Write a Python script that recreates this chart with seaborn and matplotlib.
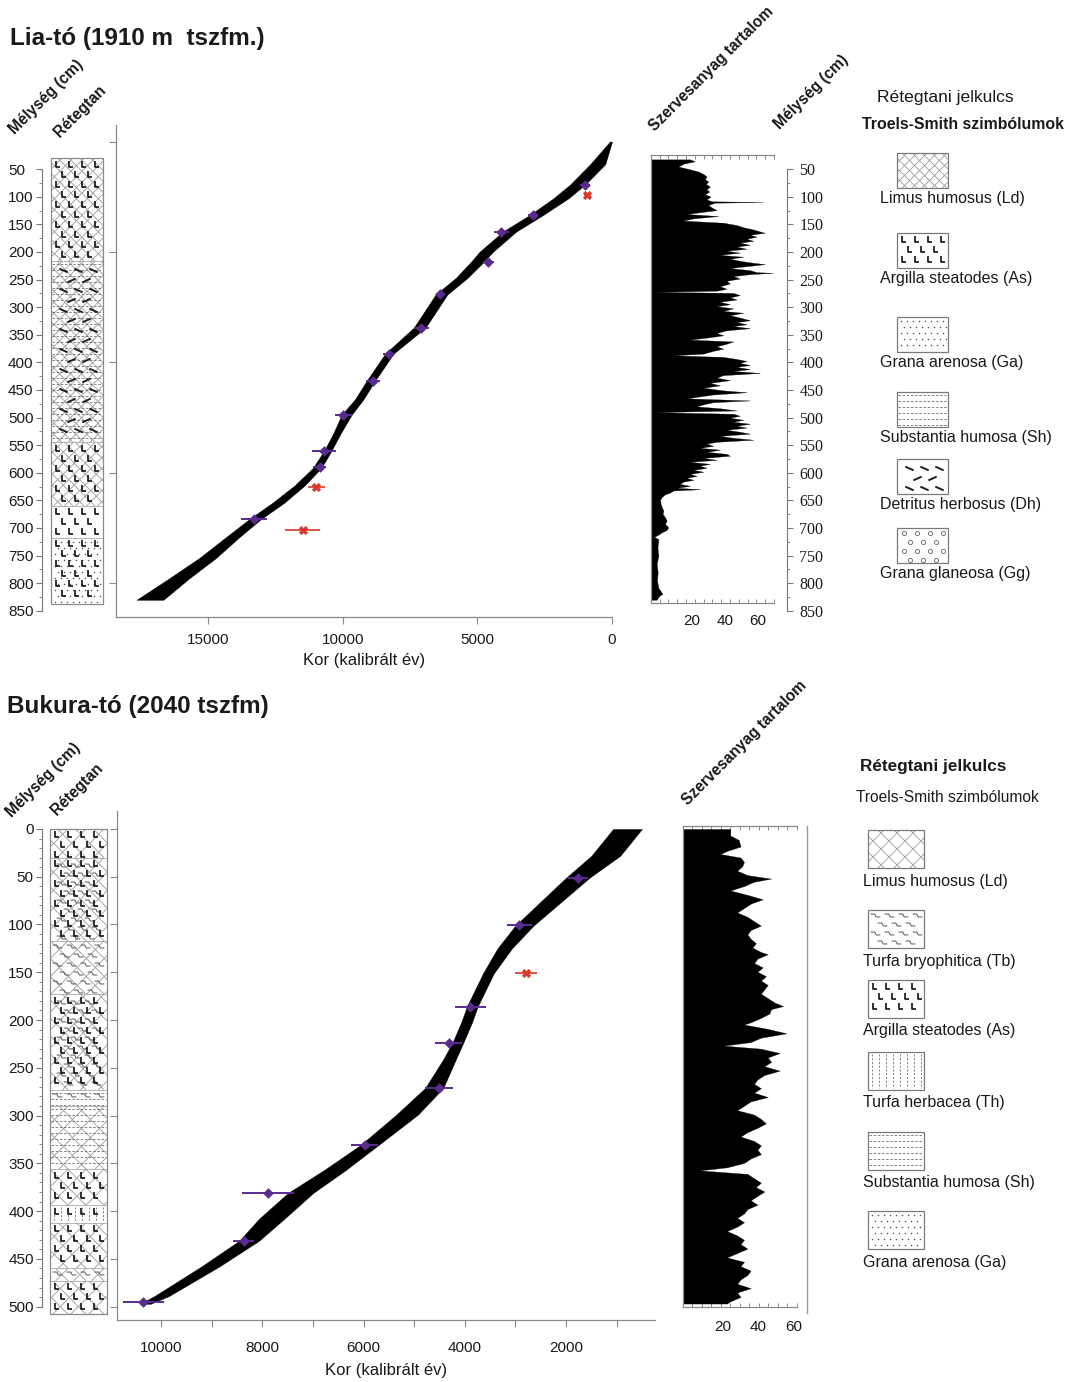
import numpy as np
import matplotlib
matplotlib.use("Agg")
import matplotlib.pyplot as plt
import seaborn as sns
from matplotlib.patches import Rectangle
from matplotlib.path import Path
from matplotlib.collections import LineCollection

# ---------------------------------------------------------------- data
LIA_TITLE = "Lia-tó (1910 m  tszfm.)"
BUK_TITLE = "Bukura-tó (2040 tszfm)"
AGE_LABEL = "Kor (kalibrált év)"

# Lia age-depth model envelope (depth cm, youngest / oldest age)
LIA_MODEL_DEPTH = [0, 41, 78, 103, 133, 163, 200, 218, 247, 277, 337, 384, 433, 467,
                   495, 529, 560, 591, 623, 654, 684, 717, 755, 792, 830]
LIA_MODEL_YOUNG = [0, 250, 1000, 1621, 2557, 3555, 4428, 4765, 5364, 6113, 6924, 8109,
                   8795, 9232, 9669, 10080, 10417, 10791, 11415, 12163, 13037, 13848,
                   14721, 15719, 16655]
LIA_MODEL_OLD = [80, 810, 1560, 2183, 3056, 4054, 4927, 5240, 5801, 6550, 7360, 8421,
                 9107, 9544, 10043, 10354, 10692, 11103, 11789, 12600, 13474, 14347,
                 15345, 16468, 17653]
LIA_DATE_AGE = [998, 2932, 4117, 4589, 6387, 7086, 8296, 8883, 9980, 10704, 10854, 13287]
LIA_DATE_DEPTH = [78, 133, 163, 218, 277, 337, 384, 433, 495, 560, 590, 684]
LIA_DATE_ERR = [190, 190, 280, 190, 160, 280, 190, 250, 310, 440, 250, 480]
LIA_OUT_AGE = [910, 10978, 11477]
LIA_OUT_DEPTH = [97, 625, 704]
LIA_OUT_ERR = [120, 310, 650]
LIA_AGE_TICKS = [15000, 10000, 5000, 0]

# Bukura age-depth model envelope
BUK_MODEL_DEPTH = [0, 28, 51, 101, 125, 151, 186, 202, 224, 241, 271, 299, 331, 357,
                   381, 408, 431, 458, 489, 497]
BUK_MODEL_YOUNG = [501, 929, 1535, 2640, 3069, 3426, 3747, 3854, 4032, 4175, 4425, 4924,
                   5709, 6351, 6994, 7564, 8064, 8849, 9847, 10204]
BUK_MODEL_OLD = [1071, 1499, 2000, 3000, 3355, 3640, 3961, 4068, 4247, 4425, 4782, 5352,
                 6066, 6780, 7493, 8064, 8456, 9205, 10133, 10420]
BUK_DATE_AGE = [1770, 2926, 3890, 4318, 4510, 5980, 7885, 8370, 10347]
BUK_DATE_DEPTH = [51, 101, 186, 224, 271, 331, 381, 431, 495]
BUK_DATE_ERR = [200, 250, 300, 270, 285, 270, 520, 210, 410]
BUK_OUT_AGE = [2784]
BUK_OUT_DEPTH = [151]
BUK_OUT_ERR = [220]
BUK_AGE_TICKS = [10000, 8000, 6000, 4000, 2000]
BUK_AGE_MINOR = [9000, 7000, 5000, 3000, 1000]

# organic matter content (depth cm, %)
LIA_ORGANIC = [
    (32, 19), (35.5, 22), (40, 15), (45, 12), (50, 19), (54, 24), (58.5, 27), (63, 29),
    (68, 28), (72, 30), (76.6, 28.6), (81.5, 31), (86, 29), (90.5, 30.6), (95, 28),
    (99.6, 31.4), (104.5, 29), (108, 32), (109.3, 63), (110.5, 34), (114.7, 30), (119, 32),
    (124, 35), (127, 27), (131, 17), (134.7, 36), (139, 21), (143, 15), (146.8, 39),
    (151, 47), (155, 51), (159, 57), (162.6, 61), (165, 64), (168.6, 55), (172, 59),
    (176, 53), (179.5, 57), (183, 49), (186.8, 55), (190, 47), (194, 53), (197.6, 41),
    (201, 49), (205, 37), (208.5, 51), (212, 43), (215.8, 49), (219.4, 57), (221.9, 64),
    (225.5, 53), (229, 43), (232.7, 55), (236.4, 59), (237.6, 69), (240, 55), (243.6, 45),
    (247.9, 49), (252, 41), (257, 43), (261.8, 37), (266.6, 41), (270, 35), (272, -2),
    (274, 45), (278, 49), (282, 43), (286, 47), (290, 37), (294.5, 43), (298, 35),
    (302, 45), (306.6, 39), (310, 51), (314.4, 43), (318.7, 49), (323.5, 55), (327, 47),
    (330.8, 53), (334, 45), (338, 55), (341.7, 41), (346.5, 35), (350.8, 39), (355, 29),
    (358.6, 19), (362, 45), (366, 41), (370.7, 35), (375, 39), (379, 33), (384, 27),
    (387, 9), (390, 39), (393.7, 47), (397.3, 53), (401, 49), (404.6, 55), (408, 47),
    (412, 55), (415.5, 45), (419, 61), (423, 39), (427.6, 35), (432, 43), (437, 31),
    (441.5, 37), (445.8, 27), (450.6, 39), (454, 53), (458, 33), (461.5, 25), (465, 17),
    (468.8, 55), (472, 33), (476, 27), (479.6, 23), (483, 37), (487, 47), (490, -2),
    (493, 45), (496.6, 49), (500, 43), (503.9, 51), (507.5, 45), (511, 55), (514.7, 47),
    (518, 53), (522, 41), (525.6, 49), (529, 55), (533, 37), (536.5, 45), (540, 57),
    (543.8, 35), (547, 29), (551, 33), (554.7, 25), (558, 37), (562, 29), (565.6, 41),
    (569, 43), (573, 27), (576.5, 35), (580, 19), (583.7, 31), (587, 25), (591, 29),
    (594.6, 21), (598, 27), (602, 19), (605.5, 23), (609, 17), (612.8, 21), (616, 15),
    (620, 13), (623.7, 19), (627, 11), (629.7, 25), (632, 9), (635.8, 7), (639, 4),
    (644, 2), (649, 1), (656, 1.4), (662, 2), (668, 3), (674.5, 2.6), (680.5, 4),
    (686.6, 5), (692.6, 4), (698.7, 6), (703.5, 5), (707.8, 2), (712, 0), (716, -2.5),
    (720, 0), (735, -0.5), (750, 0), (765, -1), (780, -0.4), (795, -0.8), (808, 0),
    (815, 1.5), (819, 2.5), (823, 0.5), (830, -1),
]
BUK_ORGANIC = [
    (0, 24.5), (6.9, 24.5), (11.5, 29.2), (18.4, 30.2), (23, 22.6), (26.2, 18.9),
    (29.9, 30.2), (34.5, 32.1), (39.1, 31.1), (43.7, 28.3), (48.3, 34), (52, 47.2),
    (55.2, 37.7), (59.8, 32.1), (64.4, 24.5), (69, 34), (73.6, 42.5), (78.2, 35.8),
    (82.8, 32.1), (87.4, 28.3), (92, 34), (96.6, 37.7), (101.2, 41.5), (105.8, 35.8),
    (110.4, 34), (115, 35.8), (119.6, 38.7), (124.2, 36.8), (128.8, 41.5), (131.1, 45.3),
    (135.7, 39.6), (140.3, 37.7), (144.9, 42.5), (149.5, 39.6), (154.1, 44.3),
    (158.7, 41.5), (163.3, 45.3), (167.9, 43.4), (172.5, 41.5), (177.1, 45.3),
    (181.7, 49.1), (185.4, 53.8), (188.6, 47.2), (193.2, 46.2), (197.8, 41.5),
    (202.4, 35.8), (204.7, 32.1), (209.3, 45.3), (213.9, 55.7), (218.5, 41.5),
    (223.1, 35.8), (226.8, 20.8), (230, 41.5), (234.6, 51.9), (239.2, 45.3),
    (243.8, 47.2), (248.4, 43.4), (253, 51.9), (257.6, 43.4), (262.2, 39.6),
    (266.8, 37.7), (271.4, 41.5), (276, 37.7), (280.6, 45.3), (285.2, 35.8),
    (289.8, 32.1), (294.4, 28.3), (299, 37.7), (303.6, 41.5), (308.2, 44.3),
    (312.8, 39.6), (317.4, 34), (322, 30.2), (326.6, 37.7), (331.2, 41.5), (335.8, 39.6),
    (340.4, 41.5), (345, 35.8), (349.6, 32.1), (354.2, 22.6), (357.4, 7.5), (361.1, 34),
    (365.7, 37.7), (370.3, 41.5), (374.9, 38.7), (379.5, 43.4), (384.1, 39.6),
    (388.7, 35.8), (393.3, 39.6), (397.9, 34), (402.5, 32.1), (407.1, 28.3),
    (411.7, 32.1), (416.3, 28.3), (420.9, 22.6), (425.5, 28.3), (430.1, 32.1),
    (434.7, 30.2), (439.3, 34), (443.9, 28.3), (448.5, 22.6), (453.1, 32.1),
    (457.7, 30.2), (462.3, 35.8), (466.9, 34), (471.5, 30.2), (476.1, 28.3),
    (480.7, 35.8), (485.3, 28.3), (489.9, 30.2), (494.5, 24.5), (496.8, 22.6),
]
ORG_TICKS = [20, 40, 60]

# stratigraphy (top, bottom depth, Troels-Smith components)
LIA_LAYER_TOP = [30, 217, 545, 660, 718]
LIA_LAYER_BOT = [217, 545, 660, 718, 838]
LIA_LAYER_COMP = ["Ld+As", "Ld+Dh+Sh", "Ld+As", "As", "As+Ga"]
BUK_LAYER_TOP = [0, 30, 117, 173, 273, 290, 356, 394, 412, 460, 473]
BUK_LAYER_BOT = [30, 117, 173, 273, 290, 356, 394, 412, 460, 473, 508]
BUK_LAYER_COMP = ["Ld+As", "Ld+As+Tb", "Ld+Tb", "Ld+As+Tb", "Sh+Tb", "Ld+Sh", "Ld+As",
                  "Th+As", "Ld+As", "Ld+Tb", "Ld+As"]
LIA_DEPTH_TICKS = list(range(50, 851, 50))
BUK_DEPTH_TICKS = list(range(0, 501, 50))

# legends
LIA_LEG_NAMES = ["Limus humosus (Ld)", "Argilla steatodes (As)", "Grana arenosa (Ga)",
                 "Substantia humosa (Sh)", "Detritus herbosus (Dh)", "Grana glaneosa (Gg)"]
LIA_LEG_KEYS = ["Ld", "As", "Ga", "Sh", "Dh", "Gg"]
BUK_LEG_NAMES = ["Limus humosus (Ld)", "Turfa bryophitica (Tb)", "Argilla steatodes (As)",
                 "Turfa herbacea (Th)", "Substantia humosa (Sh)", "Grana arenosa (Ga)"]
BUK_LEG_KEYS = ["Ld", "Tb", "As", "Th", "Sh", "Ga"]

# ---------------------------------------------------------------- style
sns.set_theme(style="ticks")
plt.rcParams["font.family"] = ["Liberation Sans", "DejaVu Sans"]
plt.rcParams["text.color"] = "#1a1a1a"
plt.rcParams["axes.labelcolor"] = "#1a1a1a"
plt.rcParams["xtick.labelcolor"] = "#1a1a1a"
plt.rcParams["ytick.labelcolor"] = "#1a1a1a"

PURPLE = "#5a2b8f"
RED = "#d8372a"
GRAY = "#8a8a8a"
HATCH_C = "#9a9a9a"
SERIF = ["Liberation Serif", "DejaVu Serif"]

W, H = 1069, 1382
fig = plt.figure(figsize=(W / 100, H / 100), dpi=100)


def px_ax(x0, y0, x1, y1):
    return fig.add_axes([x0 / W, 1 - y1 / H, (x1 - x0) / W, (y1 - y0) / H])


def style_spines(ax, show, color=GRAY, lw=0.9):
    for s in ["left", "right", "top", "bottom"]:
        ax.spines[s].set_visible(s in show)
        ax.spines[s].set_color(color)
        ax.spines[s].set_linewidth(lw)


DH_A = Path([(-1, 0.45), (1, -0.45)], [Path.MOVETO, Path.LINETO])
DH_B = Path([(-1, -0.45), (1, 0.45)], [Path.MOVETO, Path.LINETO])
TB_M = Path([(-1, 0.3), (-0.15, 0.3), (0.15, -0.3), (1, -0.3)],
            [Path.MOVETO, Path.LINETO, Path.LINETO, Path.LINETO])
L_M = Path([(-0.45, 1), (-0.45, -1), (0.6, -1)], [Path.MOVETO, Path.LINETO, Path.LINETO])
LINE_MK = dict(ls="none", fillstyle="none")


def grid_points(x0, x1, ylo, yhi, sx, sy, dxp, dyp, stagger=True, phase=0.0):
    dx, dy = dxp / sx, dyp / sy
    xs, ys, rows = [], [], []
    j = 0
    y = ylo + (0.55 + phase) * dy
    while y <= yhi - 0.3 * dy:
        x = x0 + (0.5 + phase) * dx + (0.5 * dx if (stagger and j % 2) else 0)
        while x <= x1 - 0.3 * dx:
            xs.append(x); ys.append(y); rows.append(j)
            x += dx
        y += dy
        j += 1
    return np.array(xs), np.array(ys), np.array(rows)


def crosshatch(ax, x0, x1, ylo, yhi, sx, sy, spacing):
    w = (x1 - x0) * sx
    h = (yhi - ylo) * sy
    segs = []
    for c in np.arange(-h, w + h, spacing):
        segs.append([(x0 + c / sx, ylo), (x0 + (c + h) / sx, yhi)])
        segs.append([(x0 + c / sx, yhi), (x0 + (c + h) / sx, ylo)])
    clip = Rectangle((x0, ylo), x1 - x0, yhi - ylo, fill=False, lw=0, visible=False)
    ax.add_patch(clip)
    lc = LineCollection(segs, colors=HATCH_C, linewidths=0.6, zorder=2)
    ax.add_collection(lc)
    lc.set_clip_path(clip)


def draw_layer(ax, comp, x0, x1, ya, yb, sx, sy, hatch_sp):
    kinds = comp.split("+")
    ylo, yhi = min(ya, yb), max(ya, yb)
    if "Ld" in kinds:
        crosshatch(ax, x0, x1, ylo, yhi, sx, sy, hatch_sp)
    if "Sh" in kinds:
        ys = np.arange(ylo + 3 / sy, yhi - 1 / sy, 6 / sy)
        ax.hlines(ys, x0 + 1 / sx, x1 - 1 / sx, colors="#707070", lw=0.6,
                  linestyles=(0, (3, 2)), zorder=3)
    if "Th" in kinds:
        xs = np.arange(x0 + 4 / sx, x1 - 2 / sx, 7 / sx)
        ax.vlines(xs, ylo + 2 / sy, yhi - 2 / sy, colors="#707070", lw=0.6,
                  linestyles=(0, (2.5, 2)), zorder=3)
    if "Ga" in kinds:
        xs, ys, _ = grid_points(x0, x1, ylo, yhi, sx, sy, 6, 6, True, 0.1)
        ax.plot(xs, ys, ls="none", marker="o", ms=1.1, mew=0, color="#555555", zorder=3)
    if "Gg" in kinds:
        xs, ys, _ = grid_points(x0, x1, ylo, yhi, sx, sy, 13, 9)
        ax.plot(xs, ys, ls="none", marker="o", ms=3.0, mfc="none", mec="#666666",
                mew=0.6, zorder=3)
    if "As" in kinds:
        xs, ys, _ = grid_points(x0, x1, ylo, yhi, sx, sy, 13, 10)
        ax.plot(xs, ys, marker=L_M, ms=5.0, mew=1.2, color="#111111", zorder=4,
                **LINE_MK)
    if "Dh" in kinds:
        xs, ys, rows = grid_points(x0, x1, ylo, yhi, sx, sy, 15, 10, True, 0.3)
        ax.plot(xs[rows % 2 == 0], ys[rows % 2 == 0], marker=DH_A, ms=6,
                mew=1.4, color="#202020", zorder=4, **LINE_MK)
        ax.plot(xs[rows % 2 == 1], ys[rows % 2 == 1], marker=DH_B, ms=6,
                mew=1.4, color="#202020", zorder=4, **LINE_MK)
    if "Tb" in kinds:
        ph = 0.3 if "As" in kinds else 0.0
        xs, ys, _ = grid_points(x0, x1, ylo, yhi, sx, sy, 14, 9, True, ph)
        ax.plot(xs, ys, marker=TB_M, ms=7, mew=0.7, color="#555555", zorder=3,
                **LINE_MK)


def strat_axes(box, ylim, tops, bots, comps, cx0, cx1, ticks, minor, bounds,
               ha, pad, hatch_sp):
    ax = px_ax(*box)
    ax.set_xlim(0, box[2] - box[0])
    ax.set_ylim(*ylim)
    ax.patch.set_alpha(0)
    style_spines(ax, ["left"], color="#777777", lw=0.8)
    ax.spines["left"].set_bounds(*bounds)
    sy = (box[3] - box[1]) / abs(ylim[0] - ylim[1])
    for t, b, c in zip(tops, bots, comps):
        draw_layer(ax, c, cx0, cx1, t, b, 1.0, sy, hatch_sp)
    ax.hlines(tops[1:], cx0, cx1, colors="#9a9a9a", lw=0.5, zorder=5)
    ax.add_patch(Rectangle((cx0, tops[0]), cx1 - cx0, bots[-1] - tops[0], fill=False,
                           edgecolor=GRAY, lw=0.9, zorder=6))
    ax.set_xticks([])
    ax.set_yticks(ticks)
    ax.set_yticklabels([str(t) for t in ticks], ha=ha)
    ax.set_yticks(minor, minor=True)
    ax.tick_params(axis="y", which="major", direction="out", length=4, width=0.8,
                   color="#777777", labelsize=11, pad=pad, left=True)
    ax.tick_params(axis="y", which="minor", direction="out", length=2, width=0.6,
                   color="#777777", left=True)
    return ax


def age_axes(box, xlim, ylim, mdepth, myoung, mold, dage, ddepth, derr,
             oage, odepth, oerr, xticks, xminor, yticks, pad, labelpad):
    ax = px_ax(*box)
    ax.set_xlim(*xlim)
    ax.set_ylim(*ylim)
    ax.patch.set_alpha(0)
    ax.fill_betweenx(mdepth, myoung, mold, color="black", lw=0.3, zorder=2)
    ax.errorbar(dage, ddepth, xerr=derr, fmt="none", ecolor=PURPLE, elinewidth=1.4,
                capsize=0, zorder=4)
    sns.scatterplot(x=dage, y=ddepth, ax=ax, marker="D", s=24, color=PURPLE,
                    edgecolor=PURPLE, linewidth=0.5, zorder=5, legend=False)
    ax.errorbar(oage, odepth, xerr=oerr, fmt="none", ecolor=RED, elinewidth=1.2,
                capsize=0, zorder=4)
    sns.scatterplot(x=oage, y=odepth, ax=ax, marker="X", s=38, color=RED,
                    edgecolor=RED, linewidth=0.3, zorder=5, legend=False)
    style_spines(ax, ["left", "bottom"])
    ax.set_xticks(xticks)
    ax.set_xticklabels([str(t) for t in xticks])
    if xminor:
        ax.set_xticks(xminor, minor=True)
    ax.set_yticks(yticks)
    ax.set_yticklabels([])
    ax.tick_params(axis="both", which="both", direction="out", length=5, width=0.8,
                   color=GRAY, labelsize=11, pad=pad, bottom=True, left=True)
    ax.set_xlabel(AGE_LABEL, fontsize=12, labelpad=labelpad)
    ax.set_ylabel("")
    return ax


def organic_axes(box, ylim, xlim, pairs, n_minor, pad):
    ax = px_ax(*box)
    ax.set_xlim(*xlim)
    ax.set_ylim(*ylim)
    ax.patch.set_alpha(0)
    d = np.array([p[0] for p in pairs])
    v = np.array([p[1] for p in pairs])
    ax.fill_betweenx(d, xlim[0], v, color="black", lw=0.2, zorder=2)
    style_spines(ax, ["left", "top", "bottom"])
    ax.set_xticks(ORG_TICKS)
    ax.set_xticklabels([str(t) for t in ORG_TICKS])
    ax.set_xticks(np.linspace(xlim[0], xlim[1], n_minor), minor=True)
    ax.tick_params(axis="x", which="major", length=0, pad=pad, labelsize=11)
    ax.tick_params(axis="x", which="minor", direction="in", length=3, width=0.6,
                   color="#777777", top=True, bottom=True)
    ax.set_yticks([])
    return ax


# ---------------------------------------------------------------- Lia (top)
TOP_BOX_Y = (125, 616.7)
TOP_YLIM = (860.7, -30)

strat_axes((42, TOP_BOX_Y[0], 110, TOP_BOX_Y[1]), TOP_YLIM, LIA_LAYER_TOP, LIA_LAYER_BOT,
           LIA_LAYER_COMP, 9, 61, LIA_DEPTH_TICKS, list(range(75, 826, 50)), (50, 850),
           "left", 20.5, 11)

age_axes((116, TOP_BOX_Y[0], 612, TOP_BOX_Y[1]), (18418, 0), TOP_YLIM,
         LIA_MODEL_DEPTH, LIA_MODEL_YOUNG, LIA_MODEL_OLD,
         LIA_DATE_AGE, LIA_DATE_DEPTH, LIA_DATE_ERR,
         LIA_OUT_AGE, LIA_OUT_DEPTH, LIA_OUT_ERR,
         LIA_AGE_TICKS, None, [0, 200, 400, 600, 800], 7, 4)

organic_axes((650.7, 155, 774, 603.3), (836.4, 24.1), (-4.6, 69.5), LIA_ORGANIC, 15, 8)

axr = px_ax(760, TOP_BOX_Y[0], 787, TOP_BOX_Y[1])
axr.set_ylim(*TOP_YLIM)
axr.patch.set_alpha(0)
style_spines(axr, ["right"], color="#777777", lw=0.8)
axr.spines["right"].set_bounds(50, 850)
axr.yaxis.tick_right()
axr.set_xticks([])
axr.set_yticks(LIA_DEPTH_TICKS)
axr.set_yticklabels([str(t) for t in LIA_DEPTH_TICKS], fontfamily=SERIF)
axr.set_yticks(list(range(75, 826, 50)), minor=True)
axr.tick_params(axis="y", which="major", direction="out", length=4, width=0.8,
                color="#777777", labelsize=11.5, pad=5, right=True, left=False)
axr.tick_params(axis="y", which="minor", direction="out", length=2, width=0.6,
                color="#777777", right=True, left=False)

# ---------------------------------------------------------------- Bukura (bottom)
BOT_BOX_Y = (811, 1320)
BOT_YLIM = (514, -18.8)

strat_axes((42, BOT_BOX_Y[0], 110, BOT_BOX_Y[1]), BOT_YLIM, BUK_LAYER_TOP, BUK_LAYER_BOT,
           BUK_LAYER_COMP, 8, 65, BUK_DEPTH_TICKS, [t for t in range(0, 501, 10) if t % 50],
           (0, 500), "right", 2, 18)

age_axes((117, BOT_BOX_Y[0], 655, BOT_BOX_Y[1]), (10870, 243), BOT_YLIM,
         BUK_MODEL_DEPTH, BUK_MODEL_YOUNG, BUK_MODEL_OLD,
         BUK_DATE_AGE, BUK_DATE_DEPTH, BUK_DATE_ERR,
         BUK_OUT_AGE, BUK_OUT_DEPTH, BUK_OUT_ERR,
         BUK_AGE_TICKS, BUK_AGE_MINOR, BUK_DEPTH_TICKS, 10, 6)

organic_axes((682.7, 826, 796.7, 1306.7), (500.1, -3.1), (-2, 61.4), BUK_ORGANIC, 13, 9.5)

axl = px_ax(807, 826, 815, 1313)
axl.patch.set_alpha(0)
style_spines(axl, ["left"], color="#9a9a9a", lw=1.0)
axl.set_xticks([])
axl.set_yticks([])

# ---------------------------------------------------------------- overlay: titles, headers, legends
ov = px_ax(0, 0, W, H)
ov.set_xlim(0, W)
ov.set_ylim(H, 0)
ov.axis("off")

ov.text(10, 38, LIA_TITLE, fontsize=17.5, fontweight="bold", va="center", ha="left")
ov.text(7, 706, BUK_TITLE, fontsize=17.5, fontweight="bold", va="center", ha="left")

HDR = dict(rotation=45, rotation_mode="anchor", ha="left", va="baseline",
           fontsize=11.2, fontweight="bold")
ov.text(15, 135, "Mélység (cm)", **HDR)
ov.text(60, 138, "Rétegtan", **HDR)
ov.text(655, 132, "Szervesanyag tartalom", **HDR)
ov.text(780, 130, "Mélység (cm)", **HDR)
ov.text(12, 818, "Mélység (cm)", **HDR)
ov.text(57, 816, "Rétegtan", **HDR)
ov.text(688, 806, "Szervesanyag tartalom", **HDR)

# top legend
ov.text(877, 97, "Rétegtani jelkulcs", fontsize=12.6, va="center", ha="left")
ov.text(862, 124, "Troels-Smith szimbólumok", fontsize=11.4, fontweight="bold",
        va="center", ha="left")
LIA_BOX_TOP = [153, 233, 317, 392, 459, 528]
for name, key, yt in zip(LIA_LEG_NAMES, LIA_LEG_KEYS, LIA_BOX_TOP):
    draw_layer(ov, key, 897, 948, yt, yt + 35, 1.0, 1.0, 10)
    ov.add_patch(Rectangle((897, yt), 51, 35, fill=False, edgecolor="#7a7a7a", lw=0.9,
                           zorder=6))
    ov.text(880, yt + 45, name, fontsize=11.5, va="center", ha="left")

# bottom legend
ov.text(860, 766, "Rétegtani jelkulcs", fontsize=12.3, fontweight="bold", va="center",
        ha="left")
ov.text(856, 797, "Troels-Smith szimbólumok", fontsize=11.2, va="center", ha="left")
BUK_BOX_TOP = [830, 910, 980, 1052, 1132, 1211]
for name, key, yt in zip(BUK_LEG_NAMES, BUK_LEG_KEYS, BUK_BOX_TOP):
    draw_layer(ov, key, 868, 924, yt, yt + 38, 1.0, 1.0, 16)
    ov.add_patch(Rectangle((868, yt), 56, 38, fill=False, edgecolor="#7a7a7a", lw=0.9,
                           zorder=6))
    ov.text(863, yt + 51, name, fontsize=11.5, va="center", ha="left")

fig.savefig("out.png", dpi=100, facecolor="white")
